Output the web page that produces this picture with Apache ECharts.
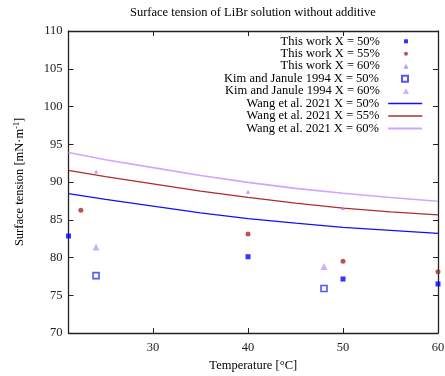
<!DOCTYPE html>
<html>
<head>
<meta charset="utf-8">
<script src="https://cdn.jsdelivr.net/npm/echarts@6/dist/echarts.min.js"></script>
<style>
html,body{margin:0;padding:0;background:#fff;}
#chart{width:445px;height:376px;}
</style>
</head>
<body>
<div id="chart"></div>
<script>
// ---- data ----
const xTicks = [30, 40, 50, 60];
const thisWork50 = [[21.1, 82.85], [40, 80.1], [50, 77.15], [60, 76.5]];
const thisWork55 = [[22.4, 86.25], [40, 83.1], [50, 79.5], [60, 78.1]];
const thisWork60 = [[24, 91.4], [40, 88.7], [50, 86.55]];
const kim50 = [[24, 77.6], [48, 75.9]];
const kim60 = [[24, 81.4], [48, 78.8]];
const wangT = [21.1, 25, 30, 35, 40, 45, 50, 55, 60];
const wang50 = [88.45, 87.7, 86.8, 85.9, 85.15, 84.55, 84.0, 83.6, 83.2];
const wang55 = [91.55, 90.7, 89.75, 88.8, 87.95, 87.2, 86.55, 86.05, 85.65];
const wang60 = [93.9, 92.95, 91.9, 90.85, 89.95, 89.15, 88.5, 87.95, 87.45];
const names = [
  'This work X = 50%', 'This work X = 55%', 'This work X = 60%',
  'Kim and Janule 1994 X = 50%', 'Kim and Janule 1994 X = 60%',
  'Wang et al. 2021 X = 50%', 'Wang et al. 2021 X = 55%', 'Wang et al. 2021 X = 60%'
];

const FONT = 'Liberation Serif';
const pair = (xs, ys) => xs.map((x, i) => [x, ys[i]]);

// legend layout: icon centre x = 406, text right edge x = 380, row pitch 12.45
const iconCx = 406, textRight = 380, W = 445;
const rowTop = 34.8, rowStep = 12.45;
const iconSize = [4, 4, 5, 6, 6, 0, 0, 0];
const lineW = [0, 0, 0, 0, 0, 1.6, 1.4, 2];
const legends = names.map((n, i) => {
  const isLine = i >= 5;
  const iw = isLine ? 34 : iconSize[i];
  const ih = isLine ? 6 : iconSize[i];
  const iconLeft = iconCx - iw / 2;
  const pad = iconLeft - 5 - textRight;
  const l = {
    data: [n],
    orient: 'vertical',
    align: 'right',
    right: W - (iconLeft + iw),
    top: rowTop + i * rowStep,
    padding: 0,
    itemGap: 0,
    itemWidth: iw,
    itemHeight: ih,
    selectedMode: false,
    textStyle: { fontFamily: FONT, fontSize: 12.5, color: '#000', lineHeight: 12.45, padding: [0, pad, 0, 0] }
  };
  if (isLine) {
    l.itemStyle = { opacity: 0, borderWidth: 0 };
    l.lineStyle = { width: lineW[i] };
  }
  return l;
});

const chart = echarts.init(document.getElementById('chart'), null, { renderer: 'canvas' });
chart.setOption({
  animation: false,
  backgroundColor: '#fff',
  title: {
    text: 'Surface tension of LiBr solution without additive',
    left: 130, top: 6, padding: 0,
    textStyle: { fontFamily: FONT, fontSize: 12.5, fontWeight: 'normal', color: '#000' }
  },
  legend: legends,
  grid: { left: 68.5, right: 7, top: 31, bottom: 43, outerBoundsMode: 'none' },
  xAxis: [{
    type: 'value', min: 21.1, max: 60, position: 'bottom',
    name: 'Temperature [°C]', nameLocation: 'middle', nameGap: 24,
    nameTextStyle: { fontFamily: FONT, fontSize: 12.5, color: '#000' },
    axisLine: { show: true, lineStyle: { color: '#222', width: 1.3 } },
    axisTick: { inside: true, length: 5, customValues: xTicks, lineStyle: { color: '#222' } },
    axisLabel: { customValues: xTicks, fontFamily: FONT, fontSize: 12.5, color: '#222', margin: 8 },
    splitLine: { show: false }
  }, {
    type: 'value', min: 21.1, max: 60, position: 'top',
    axisLine: { show: true, lineStyle: { color: '#222', width: 1.3 } },
    axisTick: { inside: true, length: 5, customValues: xTicks, lineStyle: { color: '#222' } },
    axisLabel: { show: false },
    splitLine: { show: false }
  }],
  yAxis: [{
    type: 'value', min: 70, max: 110, interval: 5, position: 'left',
    name: 'Surface tension [mN·m{sup|-1}]', nameLocation: 'middle', nameGap: 42,
    nameTextStyle: { fontFamily: FONT, fontSize: 12.5, color: '#000',
      rich: { sup: { fontFamily: FONT, fontSize: 8, verticalAlign: 'top', padding: [0, 0, 6, 0], color: '#000' } } },
    axisLine: { show: true, lineStyle: { color: '#222', width: 1.3 } },
    axisTick: { inside: true, length: 5, lineStyle: { color: '#222' } },
    axisLabel: { fontFamily: FONT, fontSize: 12.5, color: '#222', margin: 6 },
    splitLine: { show: false }
  }, {
    type: 'value', min: 70, max: 110, interval: 5, position: 'right',
    axisLine: { show: true, lineStyle: { color: '#222', width: 1.3 } },
    axisTick: { inside: true, length: 5, lineStyle: { color: '#222' } },
    axisLabel: { show: false },
    splitLine: { show: false }
  }],
  series: [
    { name: names[0], type: 'scatter', data: thisWork50, symbol: 'rect', symbolSize: 5, clip: false,
      itemStyle: { color: '#0000ff' } },
    { name: names[1], type: 'scatter', data: thisWork55, symbol: 'circle', symbolSize: 5, clip: false,
      itemStyle: { color: '#a52a2a' } },
    { name: names[2], type: 'scatter', data: thisWork60, symbol: 'triangle', symbolSize: 4, clip: false,
      itemStyle: { color: '#b57dff' } },
    { name: names[3], type: 'scatter', data: kim50, symbol: 'rect', symbolSize: 6, clip: false,
      itemStyle: { color: '#ffffff', borderColor: '#2a2aff', borderWidth: 1.6 } },
    { name: names[4], type: 'scatter', data: kim60, symbol: 'triangle', symbolSize: 7, clip: false,
      itemStyle: { color: '#c49bff' } },
    { name: names[5], type: 'line', data: pair(wangT, wang50), symbol: 'none', smooth: false,
      lineStyle: { color: '#1010ff', width: 1.3 }, itemStyle: { color: '#1010ff' }, z: 1 },
    { name: names[6], type: 'line', data: pair(wangT, wang55), symbol: 'none', smooth: false,
      lineStyle: { color: '#b02c2c', width: 1.3 }, itemStyle: { color: '#b02c2c' }, z: 1 },
    { name: names[7], type: 'line', data: pair(wangT, wang60), symbol: 'none', smooth: false,
      lineStyle: { color: '#cfa6ff', width: 1.6 }, itemStyle: { color: '#cfa6ff' }, z: 1 }
  ]
});
</script>
</body>
</html>
